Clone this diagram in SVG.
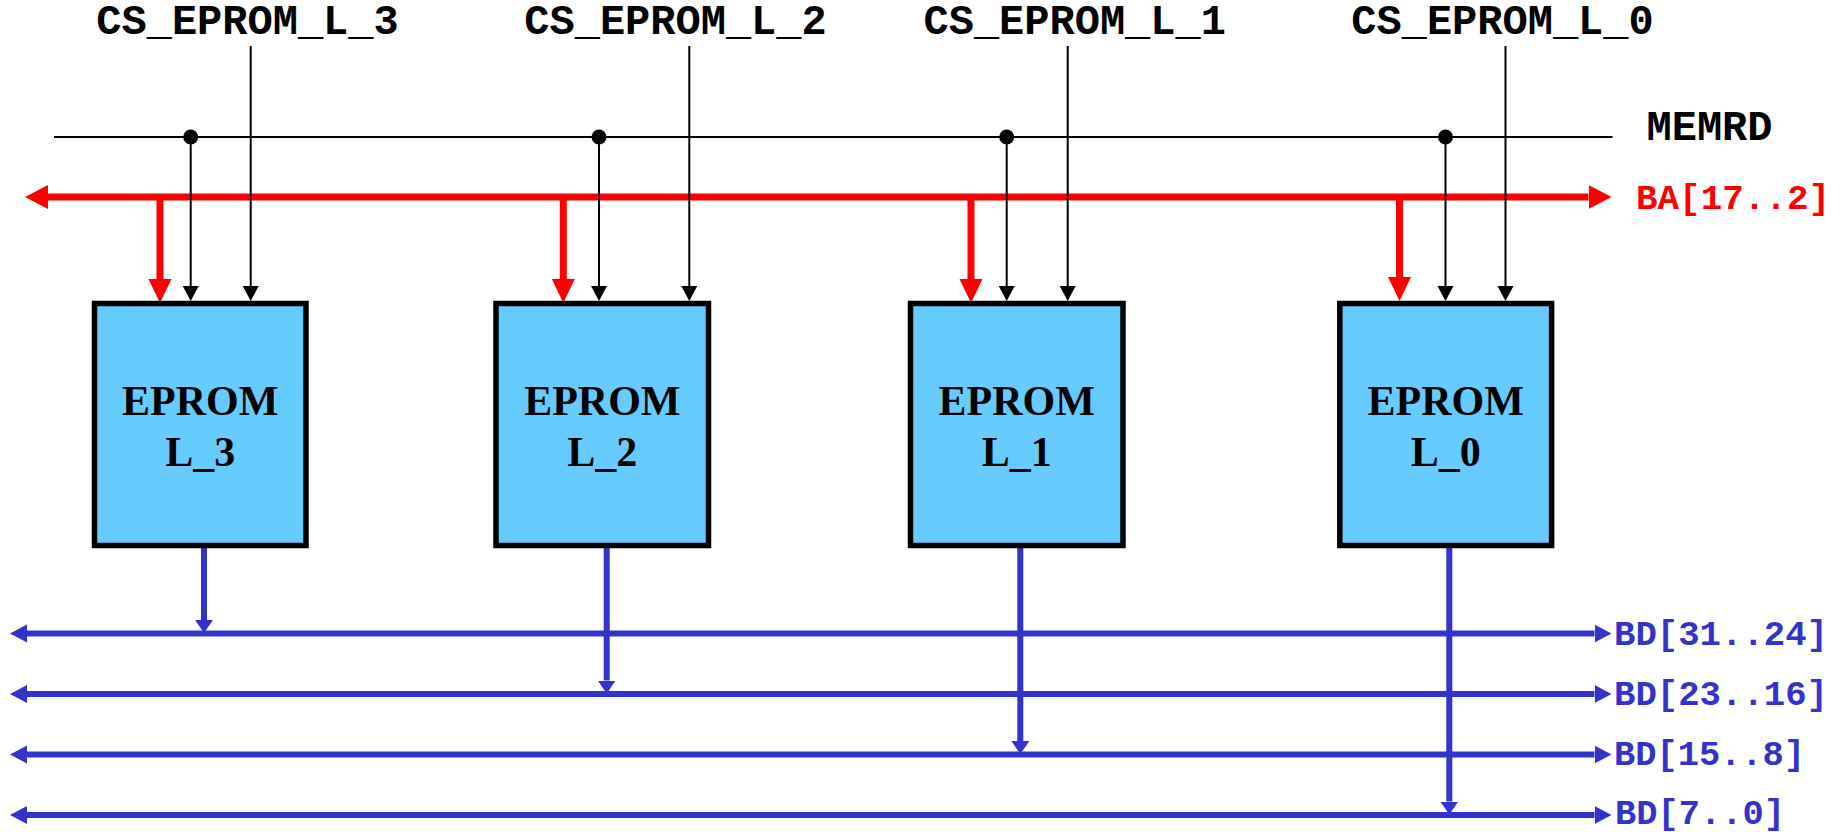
<svg xmlns="http://www.w3.org/2000/svg" width="1843" height="832" viewBox="0 0 1843 832">
<style>
.box{fill:#66CCFF;stroke:#000;stroke-width:5.5}
.btxt{font-family:"Liberation Serif","Times New Roman",serif;font-weight:bold;font-size:42px;fill:#000;text-anchor:middle}
.cs{font-family:"Liberation Mono","Courier New",monospace;font-weight:bold;font-size:42px;fill:#000;text-anchor:middle}
.mono{font-family:"Liberation Mono","Courier New",monospace;font-weight:bold;font-size:35px}
.blk{stroke:#000;stroke-width:2;fill:none}
.red{stroke:#FF0000;stroke-width:7;fill:none}
.blue{stroke:#3333CC;stroke-width:6;fill:none}
</style>
<defs>
<marker id="redBus" markerUnits="userSpaceOnUse" markerWidth="24" markerHeight="24" refX="0" refY="12" orient="auto-start-reverse"><path d="M0,0 L23,12 L0,24 z" fill="#FF0000"/></marker>
<marker id="redDrop" markerUnits="userSpaceOnUse" markerWidth="25" markerHeight="24" refX="0" refY="11.5" orient="auto"><path d="M0,0 L24,11.5 L0,23 z" fill="#FF0000"/></marker>
<marker id="blkArr" markerUnits="userSpaceOnUse" markerWidth="16" markerHeight="17" refX="0" refY="8" orient="auto"><path d="M0,0 L15,8 L0,16 z" fill="#000"/></marker>
<marker id="blueBus" markerUnits="userSpaceOnUse" markerWidth="18" markerHeight="19" refX="0" refY="9" orient="auto-start-reverse"><path d="M0,0 L17,9 L0,18 z" fill="#3333CC"/></marker>
<marker id="blueDrop" markerUnits="userSpaceOnUse" markerWidth="14" markerHeight="19" refX="0" refY="9" orient="auto"><path d="M0,0 L13,9 L0,18 z" fill="#3333CC"/></marker>
</defs>

<g id="labels">
<text class="cs" x="247.5" y="34">CS_EPROM_L_3</text>
<text class="cs" x="675.5" y="34">CS_EPROM_L_2</text>
<text class="cs" x="1074.7" y="34">CS_EPROM_L_1</text>
<text class="cs" x="1502.5" y="34">CS_EPROM_L_0</text>
<text class="cs" x="1709.5" y="140">MEMRD</text>
<text class="mono" x="1636" y="209" fill="#FF0000" textLength="194" lengthAdjust="spacingAndGlyphs">BA[17..2]</text>
<text class="mono" x="1614" y="645" fill="#3333CC" textLength="214" lengthAdjust="spacingAndGlyphs">BD[31..24]</text>
<text class="mono" x="1614" y="705" fill="#3333CC" textLength="214" lengthAdjust="spacingAndGlyphs">BD[23..16]</text>
<text class="mono" x="1614" y="765" fill="#3333CC" textLength="191" lengthAdjust="spacingAndGlyphs">BD[15..8]</text>
<text class="mono" x="1615" y="824" fill="#3333CC" textLength="170" lengthAdjust="spacingAndGlyphs">BD[7..0]</text>
</g>

<g id="connectors">
<!-- MEMRD line -->
<line class="blk" x1="54" y1="137" x2="1612.5" y2="137"/>
<!-- BA bus -->
<line class="red" x1="48" y1="197" x2="1588.5" y2="197" marker-start="url(#redBus)" marker-end="url(#redBus)"/>
<!-- BD buses -->
<line class="blue" x1="27" y1="633.5" x2="1594.5" y2="633.5" marker-start="url(#blueBus)" marker-end="url(#blueBus)"/>
<line class="blue" x1="27" y1="694" x2="1594.5" y2="694" marker-start="url(#blueBus)" marker-end="url(#blueBus)"/>
<line class="blue" x1="27" y1="754.5" x2="1594.5" y2="754.5" marker-start="url(#blueBus)" marker-end="url(#blueBus)"/>
<line class="blue" x1="27" y1="815" x2="1594.5" y2="815" marker-start="url(#blueBus)" marker-end="url(#blueBus)"/>

<!-- EPROM L_3 -->
<line class="red" x1="160" y1="197" x2="160" y2="279" marker-end="url(#redDrop)"/>
<circle cx="190.7" cy="137" r="7.5" fill="#000"/>
<line class="blk" x1="190.7" y1="137" x2="190.7" y2="286" marker-end="url(#blkArr)"/>
<line class="blk" x1="250.7" y1="46" x2="250.7" y2="286" marker-end="url(#blkArr)"/>
<line class="blue" x1="204" y1="546" x2="204" y2="620" marker-end="url(#blueDrop)"/>

<!-- EPROM L_2 -->
<line class="red" x1="563.3" y1="197" x2="563.3" y2="279" marker-end="url(#redDrop)"/>
<circle cx="599" cy="137" r="7.5" fill="#000"/>
<line class="blk" x1="599" y1="137" x2="599" y2="286" marker-end="url(#blkArr)"/>
<line class="blk" x1="689.3" y1="46" x2="689.3" y2="286" marker-end="url(#blkArr)"/>
<line class="blue" x1="606.7" y1="546" x2="606.7" y2="680.5" marker-end="url(#blueDrop)"/>

<!-- EPROM L_1 -->
<line class="red" x1="971" y1="197" x2="971" y2="279" marker-end="url(#redDrop)"/>
<circle cx="1006.7" cy="137" r="7.5" fill="#000"/>
<line class="blk" x1="1006.7" y1="137" x2="1006.7" y2="286" marker-end="url(#blkArr)"/>
<line class="blk" x1="1067.7" y1="46" x2="1067.7" y2="286" marker-end="url(#blkArr)"/>
<line class="blue" x1="1020.3" y1="546" x2="1020.3" y2="741" marker-end="url(#blueDrop)"/>

<!-- EPROM L_0 -->
<line class="red" x1="1399.5" y1="197" x2="1399.5" y2="277" marker-end="url(#redDrop)"/>
<circle cx="1445.5" cy="137" r="7.5" fill="#000"/>
<line class="blk" x1="1445.5" y1="137" x2="1445.5" y2="286" marker-end="url(#blkArr)"/>
<line class="blk" x1="1505.5" y1="46" x2="1505.5" y2="286" marker-end="url(#blkArr)"/>
<line class="blue" x1="1449.3" y1="546" x2="1449.3" y2="801.5" marker-end="url(#blueDrop)"/>
</g>

<g id="eprom-l3">
<rect class="box" x="94.5" y="303.5" width="211.5" height="242"/>
<text class="btxt" x="200.2" y="415">EPROM</text>
<text class="btxt" x="200.2" y="466">L_3</text>
</g>
<g id="eprom-l2">
<rect class="box" x="496" y="303.5" width="212.5" height="242"/>
<text class="btxt" x="602.3" y="415">EPROM</text>
<text class="btxt" x="602.3" y="466">L_2</text>
</g>
<g id="eprom-l1">
<rect class="box" x="910.5" y="303.5" width="212.5" height="242"/>
<text class="btxt" x="1016.7" y="415">EPROM</text>
<text class="btxt" x="1016.7" y="466">L_1</text>
</g>
<g id="eprom-l0">
<rect class="box" x="1339.8" y="303.5" width="211.8" height="242"/>
<text class="btxt" x="1445.7" y="415">EPROM</text>
<text class="btxt" x="1445.7" y="466">L_0</text>
</g>
</svg>
